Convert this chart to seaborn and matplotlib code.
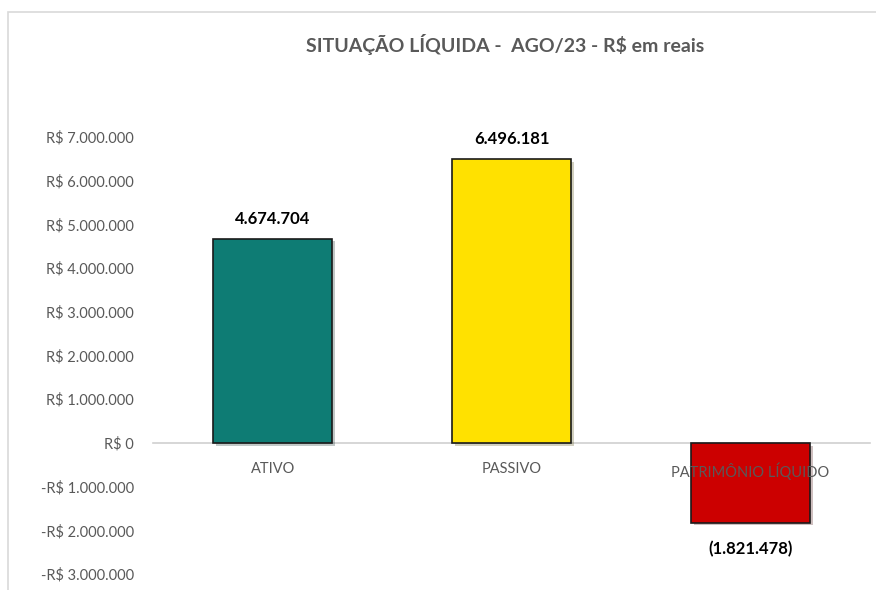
import matplotlib
matplotlib.use("Agg")
import matplotlib.pyplot as plt
import matplotlib.patheffects as pe
from matplotlib.patches import Rectangle
from matplotlib.ticker import FuncFormatter, FixedLocator
import pandas as pd
import seaborn as sns

categorias = ["ATIVO", "PASSIVO", "PATRIMÔNIO LÍQUIDO"]
valores = [4674704, 6496181, -1821478]
cores = ["#0E7C74", "#FFE100", "#CC0000"]
rotulos = ["4.674.704", "6.496.181", "(1.821.478)"]
titulo = "SITUAÇÃO LÍQUIDA -  AGO/23 - R$ em reais"

sns.set_style("white")
plt.rcParams["font.family"] = ["Lato", "DejaVu Sans"]

df = pd.DataFrame({"categoria": categorias, "valor": valores})

fig = plt.figure(figsize=(8.76, 5.90), dpi=100)
ax = fig.add_axes([0.175, 0.027, 0.818, 0.741])

sns.barplot(data=df, x="categoria", y="valor", hue="categoria",
            palette=cores, saturation=1, width=0.5, edgecolor="#1a1a1a",
            linewidth=1.2, legend=False, ax=ax)

for p in ax.patches:
    p.set_path_effects([pe.SimplePatchShadow(offset=(2, -2), alpha=0.25), pe.Normal()])

ax.set_axisbelow(False)
ax.set_ylim(-3000000, 7000000)
ax.set_yticks(range(-3000000, 7000001, 1000000))


def fmt_real(v, pos):
    if v == 0:
        return "R$ 0"
    s = f"{abs(int(v)):,}".replace(",", ".")
    return ("-R$ " if v < 0 else "R$ ") + s


ax.yaxis.set_major_formatter(FuncFormatter(fmt_real))
ax.tick_params(axis="y", length=0, labelsize=10.5, labelcolor="#595959", pad=14)

for s in ["top", "right", "left"]:
    ax.spines[s].set_visible(False)
ax.spines["bottom"].set_position(("data", 0))
ax.spines["bottom"].set_color("#d0d0d0")
ax.spines["bottom"].set_linewidth(1.2)
ax.spines["bottom"].set_zorder(0.5)

ax.tick_params(axis="x", which="major", length=0, labelsize=10.5,
               labelcolor="#595959", pad=14)
ax.xaxis.set_minor_locator(FixedLocator([0.5, 1.5]))
ax.tick_params(axis="x", which="minor", length=5, color="#d0d0d0", width=1)
ax.set_xlabel("")
ax.set_ylabel("")
ax.set_xlim(-0.5, 2.5)

for i, (v, r) in enumerate(zip(valores, rotulos)):
    off = 14 if v >= 0 else -19
    ax.annotate(r, (i, v), xytext=(0, off), textcoords="offset points",
                ha="center", va="center", fontsize=12, fontweight="bold",
                color="#000000")

fig.text(0.577, 0.925, titulo, ha="center", va="center", fontsize=14,
         fontweight="bold", color="#595959")

# moldura clara do gráfico
fig.patches.append(Rectangle((0.009, -0.05), 1.1, 1.03, transform=fig.transFigure,
                             fill=False, edgecolor="#d9d9d9", linewidth=1.2))

fig.savefig("out.png", dpi=100)
